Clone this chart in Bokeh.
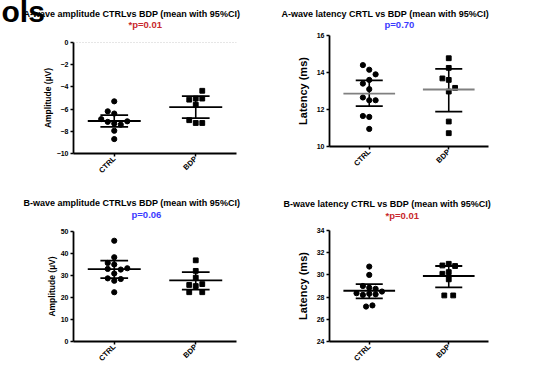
from bokeh.plotting import figure
from bokeh.layouts import column, row
from bokeh.models import FixedTicker, Span, Title
from bokeh.embed import file_html
from bokeh.resources import INLINE
from math import pi

groups = ["CTRL", "BDP"]

# ---- A-wave amplitude (µV) ----
a_amp_ctrl = [-5.3, -6.2, -6.4, -6.9, -7.15, -7.3, -7.4, -7.1, -7.95, -8.7]
a_amp_ctrl_slot = [0, -1, 0, -2, -1, 0, 1, 2, 0, 0]
a_amp_bdp = [-4.35, -5.15, -5.05, -5.05, -5.6, -7.0, -7.25, -7.25]
a_amp_bdp_slot = [1, -1, 0, 1, 0, -1, 0, 1]
a_amp_mean = [-7.07, -5.82]
a_amp_lo = [-7.61, -6.81]
a_amp_hi = [-6.54, -4.84]

# ---- A-wave latency (ms) ----
a_lat_ctrl = [14.4, 14.15, 13.9, 13.4, 13.6, 13.1, 12.65, 12.5, 12.5, 11.65, 11.6, 10.95]
a_lat_ctrl_slot = [-1, 0, 1, -1, 0, 0, -1, 0, 1, -1, 0, 0]
a_lat_bdp = [14.77, 14.25, 13.68, 13.6, 13.17, 12.97, 11.35, 10.72]
a_lat_bdp_slot = [0, 0, -1, 0, 1, 0, 0, 0]
a_lat_mean = [12.86, 13.08]
a_lat_lo = [12.18, 11.89]
a_lat_hi = [13.57, 14.2]

# ---- B-wave amplitude (µV) ----
b_amp_ctrl = [45.8, 38.3, 35.7, 35.0, 33.0, 32.7, 33.3, 30.9, 28.7, 28.4, 27.6, 22.4]
b_amp_ctrl_slot = [0, 0, -1, 0, -1, 1, 2, 0, -1, 1, 0, 0]
b_amp_bdp = [36.9, 32.1, 29.0, 25.7, 25.2, 26.1, 22.4, 22.4]
b_amp_bdp_slot = [0, 0, 0, -1, 0, 1, -1, 1]
b_amp_mean = [32.9, 27.8]
b_amp_lo = [28.8, 23.6]
b_amp_hi = [36.8, 31.5]

# ---- B-wave latency (ms) ----
b_lat_ctrl = [30.75, 30.0, 29.0, 28.85, 28.75, 28.35, 28.2, 28.3, 28.25, 28.5, 27.15, 27.25]
b_lat_ctrl_slot = [0, 0, -1, 0, 1, -2, -1, 0, 1, 2, -0.5, 0.5]
b_lat_bdp = [31.0, 30.85, 30.8, 30.1, 30.25, 29.6, 28.15, 28.15]
b_lat_bdp_slot = [0, -1, 1, -1, 0, 0, -0.7, 0.7]
b_lat_mean = [28.57, 29.9]
b_lat_lo = [27.88, 28.87]
b_lat_hi = [29.16, 30.8]

titles = [
    "A-wave amplitude CTRLvs BDP (mean with 95%CI)",
    "A-wave latency CRTL vs BDP (mean with 95%CI)",
    "B-wave amplitude CTRLvs BDP (mean with 95%CI)",
    "B-wave latency CTRL vs BDP (mean with 95%CI)",
]
pvalues = ["*p=0.01", "p=0.70", "p=0.06", "*p=0.01"]
ylabels = ["Amplitude (µV)", "Latency (ms)", "Amplitude (µV)", "Latency (ms)"]
yranges = [(-10, 0), (10, 16), (0, 50), (24, 34)]
yticks = [[-10, -8, -6, -4, -2, 0], [10, 12, 14, 16], [0, 10, 20, 30, 40, 50],
          [24, 26, 28, 30, 32, 34]]
slide_fragment = "ols"

RED = "#c8282d"
BLUE = "#3b3bff"
FONT = "Liberation Sans"


def panel(origin, size, frame, title_pos, p_pos, title, ptxt, pcol,
          ylabel, ylsize, ylstand, yr, yt, ctrl, cslot, bdp, bslot, mean, lo, hi,
          mean_color, zero=False, extra=None):
    ox, oy = origin
    w, h = size
    L, R, T, B = frame
    p = figure(width=w, height=h, x_range=groups, y_range=yr,
               output_backend="svg", toolbar_location=None,
               min_border_left=L - ox, min_border_right=w - (R - ox),
               min_border_top=T - oy, min_border_bottom=h - (B - oy))
    p.outline_line_color = None
    p.grid.visible = False
    p.background_fill_color = "white"
    p.border_fill_color = "white"

    for ax in (p.xaxis[0], p.yaxis[0]):
        ax.axis_line_width = 1.8
        ax.axis_line_color = "black"
        ax.major_tick_line_width = 1.5
        ax.major_tick_out = 3
        ax.major_tick_in = 0
        ax.minor_tick_line_color = None
        ax.major_label_text_font = FONT
        ax.major_label_text_font_style = "bold"
        ax.major_label_text_color = "black"
        ax.major_label_standoff = 2
    p.xaxis.major_label_standoff = 1
    p.yaxis.ticker = FixedTicker(ticks=yt)
    p.yaxis.major_label_text_font_size = "7px"
    p.yaxis.axis_label = ylabel
    p.yaxis.axis_label_text_font = FONT
    p.yaxis.axis_label_text_font_style = "bold"
    p.yaxis.axis_label_text_font_size = ylsize
    p.yaxis.axis_label_text_color = "black"
    p.yaxis.axis_label_standoff = ylstand
    p.xaxis.major_label_orientation = pi / 4
    p.xaxis.major_label_text_font_size = "7.5px"

    if zero:
        p.add_layout(Span(location=0, dimension="width", line_color="#9a9a9a",
                          line_dash="1 2", line_width=1))

    dx = 0.08
    c0, c1 = 0.5, 1.5
    p.scatter([c0 + s * dx for s in cslot], ctrl, marker="circle", size=5.2,
              color="black")
    p.scatter([c1 + s * dx for s in bslot], bdp, marker="square", size=4.8,
              color="black")

    cx = [c0, c1]
    hw, cw = 0.325, 0.17
    p.segment(x0=cx, x1=cx, y0=lo, y1=hi, line_color="black", line_width=1.6)
    p.segment(x0=[c - cw for c in cx], x1=[c + cw for c in cx], y0=lo, y1=lo,
              line_color="black", line_width=1.8)
    p.segment(x0=[c - cw for c in cx], x1=[c + cw for c in cx], y0=hi, y1=hi,
              line_color="black", line_width=1.8)
    p.segment(x0=[c - hw for c in cx], x1=[c + hw for c in cx], y0=mean, y1=mean,
              line_color=mean_color, line_width=1.8)

    # stacked titles above the frame (p-value nearest the frame)
    (tl, tcy), (pl, pcy) = title_pos, p_pos
    Tl = T - oy
    s_p = 2 * (Tl - 5 - (pcy - oy))
    p_top = Tl - 14 - s_p
    s_m = 2 * (p_top - (tcy - oy) - 5)
    p.add_layout(Title(text=ptxt, align="left", offset=pl - L,
                       vertical_align="bottom", standoff=s_p, text_font=FONT,
                       text_font_style="bold", text_font_size="9.5px",
                       text_color=pcol), "above")
    p.add_layout(Title(text=title, align="left", offset=tl - L,
                       vertical_align="bottom", standoff=s_m, text_font=FONT,
                       text_font_style="bold", text_font_size="9px",
                       text_color="black"), "above")
    if extra:
        # main title panel collapses to zero height; its top is p_top
        s_o = 2 * (p_top - 26)
        p.add_layout(Title(text=extra, align="left", offset=1 - L,
                           vertical_align="bottom", standoff=s_o, text_font=FONT,
                           text_font_style="bold", text_font_size="30px",
                           text_color="black"), "above")
    return p


p1 = panel((0, 0), (270, 185), (73, 236, 42, 153), (23, 12.5), (128, 24.5),
           titles[0], pvalues[0], RED, ylabels[0], "8.5px", 1, yranges[0], yticks[0],
           a_amp_ctrl, a_amp_ctrl_slot, a_amp_bdp, a_amp_bdp_slot,
           a_amp_mean, a_amp_lo, a_amp_hi, "black", zero=True, extra=slide_fragment)
p3 = panel((0, 185), (270, 184), (73, 236, 231, 342), (23, 201), (131, 214),
           titles[2], pvalues[2], BLUE, ylabels[2], "8.5px", 1, yranges[2], yticks[2],
           b_amp_ctrl, b_amp_ctrl_slot, b_amp_bdp, b_amp_bdp_slot,
           b_amp_mean, b_amp_lo, b_amp_hi, "black")
p2 = panel((270, 0), (264, 185), (328, 488, 35, 146), (280, 12.5), (383, 24.5),
           titles[1], pvalues[1], BLUE, ylabels[1], "11px", 5, yranges[1], yticks[1],
           a_lat_ctrl, a_lat_ctrl_slot, a_lat_bdp, a_lat_bdp_slot,
           a_lat_mean, a_lat_lo, a_lat_hi, "#808080")
p4 = panel((270, 185), (264, 184), (329, 492, 230, 342), (283, 202), (385, 215),
           titles[3], pvalues[3], RED, ylabels[3], "11px", 5, yranges[3], yticks[3],
           b_lat_ctrl, b_lat_ctrl_slot, b_lat_bdp, b_lat_bdp_slot,
           b_lat_mean, b_lat_lo, b_lat_hi, "black")

layout = row(column(p1, p3), column(p2, p4))
open("out.html", "w").write(file_html(layout, INLINE))
